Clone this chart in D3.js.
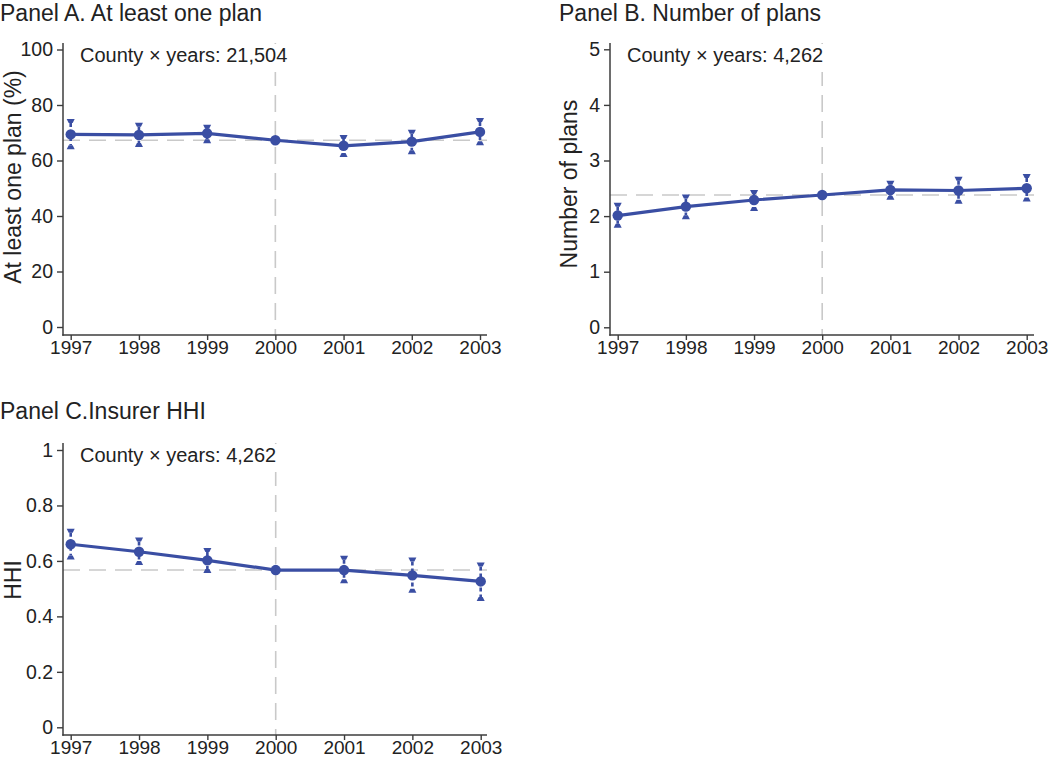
<!DOCTYPE html>
<html>
<head>
<meta charset="utf-8">
<script src="https://cdn.jsdelivr.net/npm/d3@7"></script>
<style>
  html, body { margin: 0; padding: 0; background: #fff; }
  svg { display: block; font-family: "Liberation Sans", Arial, Helvetica, sans-serif; }
</style>
</head>
<body>
<svg id="chart" width="1050" height="760"></svg>
<script>
// ---- Data ----
const years = [1997, 1998, 1999, 2000, 2001, 2002, 2003];

const planAValues = [69.4, 69.2, 69.8, 67.3, 65.3, 66.8, 70.3];
const planALower  = [64.4, 65.2, 66.6, 67.3, 61.6, 62.6, 65.9];
const planAUpper  = [74.6, 73.2, 72.5, 67.3, 68.8, 70.7, 75.0];
const planATicks  = [0, 20, 40, 60, 80, 100];

const planBValues = [2.01, 2.17, 2.29, 2.38, 2.47, 2.46, 2.50];
const planBLower  = [1.81, 1.96, 2.11, 2.38, 2.31, 2.24, 2.28];
const planBUpper  = [2.22, 2.37, 2.45, 2.38, 2.62, 2.69, 2.74];
const planBTicks  = [0, 1, 2, 3, 4, 5];

const hhiValues = [0.660, 0.633, 0.602, 0.567, 0.567, 0.548, 0.526];
const hhiLower  = [0.609, 0.589, 0.560, 0.567, 0.523, 0.489, 0.459];
const hhiUpper  = [0.712, 0.681, 0.643, 0.567, 0.615, 0.609, 0.591];
const hhiTicks  = [0, 0.2, 0.4, 0.6, 0.8, 1];

const panelTitles = ["Panel A. At least one plan", "Panel B. Number of plans", "Panel C.Insurer HHI"];
const yTitles = ["At least one plan (%)", "Number of plans", "HHI"];
const notes = ["County \u00d7 years: 21,504", "County \u00d7 years: 4,262", "County \u00d7 years: 4,262"];
const baseYear = 2000;

// ---- Style ----
const blue = "#3a4ea3";
const grey = "#c9c9c9";
const axisCol = "#3c3c3c";
const textCol = "#222";

const svg = d3.select("#chart");

const panels = [
  { title: panelTitles[0], titleX: 0, titleY: 21, yTitle: yTitles[0], yTitleX: 21, yTitleY: 177,
    note: notes[0], noteX: 80, noteY: 62,
    axisX: 63, axisRight: 487, axisTop: 43, axisBottom: 335,
    x0: 70.7, x1: 480, yBottom: 327, yTop: 49.5, domain: [0, 100], ticks: planATicks, fmt: d3.format("d"),
    values: planAValues, lower: planALower, upper: planAUpper },
  { title: panelTitles[1], titleX: 559, titleY: 21, yTitle: yTitles[1], yTitleX: 577, yTitleY: 184,
    note: notes[1], noteX: 627, noteY: 62,
    axisX: 610, axisRight: 1034, axisTop: 43, axisBottom: 335,
    x0: 617.7, x1: 1026.7, yBottom: 327.3, yTop: 49.3, domain: [0, 5], ticks: planBTicks, fmt: d3.format("d"),
    values: planBValues, lower: planBLower, upper: planBUpper },
  { title: panelTitles[2], titleX: 0, titleY: 419, yTitle: yTitles[2], yTitleX: 21, yTitleY: 580,
    note: notes[2], noteX: 80, noteY: 462,
    axisX: 63, axisRight: 487, axisTop: 443, axisBottom: 735,
    x0: 70.7, x1: 480.7, yBottom: 727.3, yTop: 450, domain: [0, 1], ticks: hhiTicks, fmt: d => d === 0 || d === 1 ? String(d) : d3.format(".1f")(d),
    values: hhiValues, lower: hhiLower, upper: hhiUpper }
];

panels.forEach(p => {
  const g = svg.append("g");
  const x = d3.scaleLinear().domain([years[0], years[years.length - 1]]).range([p.x0, p.x1]);
  const y = d3.scaleLinear().domain(p.domain).range([p.yBottom, p.yTop]);
  const baseIdx = years.indexOf(baseYear);
  const baseVal = p.values[baseIdx];

  // Panel title
  g.append("text").attr("x", p.titleX).attr("y", p.titleY)
    .attr("font-size", 23).attr("fill", textCol).text(p.title);

  // Y title
  g.append("text")
    .attr("transform", `translate(${p.yTitleX},${p.yTitleY}) rotate(-90)`)
    .attr("text-anchor", "middle").attr("font-size", 23).attr("fill", textCol)
    .text(p.yTitle);

  // Reference lines
  g.append("line")
    .attr("x1", p.axisX).attr("x2", p.axisRight)
    .attr("y1", y(baseVal)).attr("y2", y(baseVal))
    .attr("stroke", grey).attr("stroke-width", 1.6).attr("stroke-dasharray", "17,9");
  g.append("line")
    .attr("x1", x(baseYear)).attr("x2", x(baseYear))
    .attr("y1", p.axisTop).attr("y2", p.axisBottom)
    .attr("stroke", grey).attr("stroke-width", 1.6).attr("stroke-dasharray", "17,9");

  // Note with white background
  const note = g.append("text").attr("x", p.noteX).attr("y", p.noteY)
    .attr("font-size", 20).attr("fill", textCol).text(p.note);
  const bb = note.node().getBBox();
  g.insert("rect", () => note.node())
    .attr("x", bb.x - 2).attr("y", bb.y).attr("width", bb.width + 4).attr("height", bb.height + 6)
    .attr("fill", "#fff");

  // Axes
  const yAxis = d3.axisLeft(y).tickValues(p.ticks).tickFormat(p.fmt).tickSize(6).tickSizeOuter(0).tickPadding(4);
  const ya = g.append("g").attr("transform", `translate(${p.axisX},0)`).call(yAxis);
  ya.select(".domain").remove();
  ya.selectAll("line").attr("stroke", axisCol).attr("stroke-width", 1.4);
  ya.selectAll("text").attr("font-size", 19.5).attr("fill", textCol).attr("font-family", null);

  const xAxis = d3.axisBottom(x).tickValues(years).tickFormat(d3.format("d")).tickSize(5).tickSizeOuter(0).tickPadding(1);
  const xa = g.append("g").attr("transform", `translate(0,${p.axisBottom})`).call(xAxis);
  xa.select(".domain").remove();
  xa.selectAll("line").attr("stroke", axisCol).attr("stroke-width", 1.4);
  xa.selectAll("text").attr("font-size", 19).attr("fill", textCol).attr("font-family", null);

  g.append("line").attr("x1", p.axisX).attr("x2", p.axisX).attr("y1", p.axisTop).attr("y2", p.axisBottom + 0.7)
    .attr("stroke", axisCol).attr("stroke-width", 1.5);
  g.append("line").attr("x1", p.axisX - 0.7).attr("x2", p.axisRight).attr("y1", p.axisBottom).attr("y2", p.axisBottom)
    .attr("stroke", axisCol).attr("stroke-width", 1.5);

  const rows = years.map((yr, i) => ({ yr, v: p.values[i], lo: p.lower[i], hi: p.upper[i] }));

  // Series line
  g.append("path").datum(rows)
    .attr("d", d3.line().x(d => x(d.yr)).y(d => y(d.v)))
    .attr("fill", "none").attr("stroke", blue).attr("stroke-width", 3.2);

  // Error bars
  const eb = rows.filter(d => d.hi !== d.lo);
  g.selectAll(".eb").data(eb).enter().append("line")
    .attr("x1", d => x(d.yr)).attr("x2", d => x(d.yr))
    .attr("y1", d => y(d.hi) + 3).attr("y2", d => y(d.lo) - 3)
    .attr("stroke", blue).attr("stroke-width", 2.6).attr("stroke-dasharray", "4,3");
  g.selectAll(".capT").data(eb).enter().append("path")
    .attr("d", d => { const cx = x(d.yr), cy = y(d.hi); return `M${cx-4},${cy-1}L${cx+4},${cy-1}L${cx+2},${cy+3}L${cx-2},${cy+3}Z`; })
    .attr("fill", blue);
  g.selectAll(".capB").data(eb).enter().append("path")
    .attr("d", d => { const cx = x(d.yr), cy = y(d.lo); return `M${cx-4},${cy+1}L${cx+4},${cy+1}L${cx+2},${cy-3}L${cx-2},${cy-3}Z`; })
    .attr("fill", blue);

  // Markers
  g.selectAll(".pt").data(rows).enter().append("circle")
    .attr("cx", d => x(d.yr)).attr("cy", d => y(d.v)).attr("r", 5.2)
    .attr("fill", blue);
});
</script>
</body>
</html>
